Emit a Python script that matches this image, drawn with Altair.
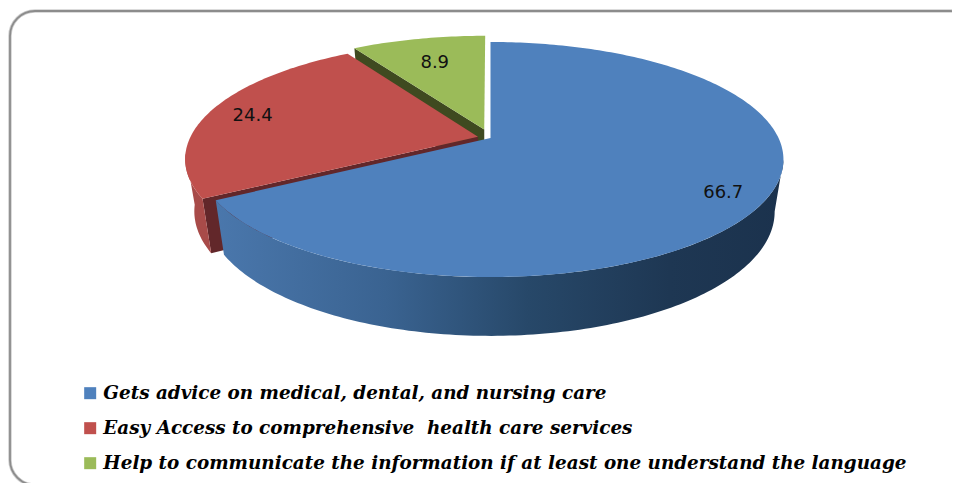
import math
import altair as alt
import pandas as pd

# ---- chart values -------------------------------------------------------
categories = [
    "Gets advice on medical, dental, and nursing care",
    "Easy Access to comprehensive \u00a0health care services",
    "Help to communicate the information if at least one understand the language",
]
values = [66.7, 24.4, 8.9]
labels = ["66.7", "24.4", "8.9"]
colors = ["#4f81bd", "#c0504d", "#9bbb59"]
rim_colors = [None, "#a84b49", None]
cut_colors = [None, "#62272a", "#3f4a20"]

# ---- 3-D pie geometry (perspective tilt of the disc) --------------------
CX, CY_TOP, CY_LOW = 490.5, 138.0, 189.0
B, A_TOP, A_LOW, K, SHRINK = 288.0, 113.6, 120.0, 0.183, 0.97
EXPLODE = [0.0, 0.045, 0.08]
LABEL_R = [0.86, 0.84, 0.72]

fr = [v / sum(values) * 360 for v in values]
starts = [sum(fr[:i]) for i in range(len(fr))]
ends = [s + f for s, f in zip(starts, fr)]


def project(r, deg, idx, low=False):
    t = math.radians(deg)
    mid = math.radians((starts[idx] + ends[idx]) / 2)
    e = EXPLODE[idx]
    X = r * math.sin(t) + e * math.sin(mid)
    Y = -r * math.cos(t) - e * math.cos(mid)
    den = 1 - K * Y
    if low:
        return CX + SHRINK * B * X / den, CY_LOW + A_LOW * Y / den
    return CX + B * X / den, CY_TOP + A_TOP * Y / den


def arc_angles(a, b):
    n = max(2, int(abs(b - a)) + 1)
    return [a + (b - a) * i / (n - 1) for i in range(n)]


def frame(points, idx):
    return pd.DataFrame(
        [{"x": p[0], "y": p[1], "i": i, "cat": categories[idx]} for i, p in enumerate(points)]
    )


def top_face(idx):
    pts = [project(0, 0, idx)] + [project(1, d, idx) for d in arc_angles(starts[idx], ends[idx])]
    return frame(pts, idx)


def rim_wall(idx, a, b):
    angs = arc_angles(a, b)
    pts = [project(1, d, idx) for d in angs] + [project(1, d, idx, True) for d in reversed(angs)]
    return frame(pts, idx)


def cut_face(idx, d):
    pts = [project(0, 0, idx), project(1, d, idx), project(1, d, idx, True), project(0, 0, idx, True)]
    return frame(pts, idx)


x_enc = alt.X("x:Q", axis=None, scale=alt.Scale(domain=[8, 952], range=[0, 944], nice=False, zero=False))
y_enc = alt.Y("y:Q", axis=None, scale=alt.Scale(domain=[8, 483], range=[0, 475], nice=False, zero=False))
order_enc = alt.Order("i:Q")


def solid(df, fill):
    return alt.Chart(df).mark_line(filled=True, fill=fill, strokeWidth=0).encode(
        x=x_enc, y=y_enc, order=order_enc
    )


def gradient(stops):
    return alt.LinearGradient(
        gradient="linear", x1=0, y1=0, x2=1, y2=0,
        stops=[alt.GradientStop(offset=o, color=c) for o, c in stops],
    )


color_enc = alt.Color(
    "cat:N",
    scale=alt.Scale(domain=categories, range=colors),
    legend=alt.Legend(
        orient="none", legendX=73, legendY=376, title=None, symbolType="square",
        symbolSize=144, symbolStrokeWidth=0, symbolOpacity=1,
        labelFont="DejaVu Serif", labelFontStyle="italic", labelFontWeight="bold",
        labelFontSize=18.36, labelColor="#000000", labelLimit=1000, labelOffset=4,
        rowPadding=16, symbolOffset=0,
    ),
)


def top(df):
    return alt.Chart(df).mark_line(filled=True, strokeWidth=0).encode(
        x=x_enc, y=y_enc, order=order_enc, color=color_enc
    )


label_pts = [project(LABEL_R[i], (starts[i] + ends[i]) / 2, i) for i in range(3)]
label_df = pd.DataFrame({"x": [p[0] for p in label_pts], "y": [p[1] for p in label_pts], "t": labels})

outline_soft = alt.Chart(pd.DataFrame({"a": [0]})).mark_rect(
    fillOpacity=0, stroke="#cfcfcf", strokeWidth=3.5, cornerRadius=25
).encode(x=alt.value(2), x2=alt.value(967), y=alt.value(3), y2=alt.value(477))
outline = alt.Chart(pd.DataFrame({"a": [0]})).mark_rect(
    fillOpacity=0, stroke="#8c8c8c", strokeWidth=1.8, cornerRadius=25
).encode(x=alt.value(2), x2=alt.value(967), y=alt.value(3), y2=alt.value(477))

blue_grad = gradient([(0, "#4a77ac"), (0.3, "#3a6391"), (0.55, "#274869"), (0.8, "#1e3753"), (1, "#1b324d")])

layers = [
    outline_soft,
    outline,
    solid(cut_face(2, starts[2]), cut_colors[2]),
    top(top_face(2)),
    solid(cut_face(1, starts[1]), cut_colors[1]),
    solid(rim_wall(1, starts[1], 262), rim_colors[1]),
    top(top_face(1)),
    solid(rim_wall(0, 100.5, ends[0]), blue_grad),
    top(top_face(0)),
    alt.Chart(label_df).mark_text(
        font="DejaVu Sans", fontSize=18, color="#111111", align="center", baseline="middle", dy=1.5
    ).encode(x=x_enc, y=y_enc, text="t:N"),
]

chart = (
    alt.layer(*layers)
    .properties(width=944, height=475, padding=0, autosize="none", background="#ffffff")
    .configure_view(stroke=None)
)

chart.save("out.html", embed_options={"renderer": "svg", "actions": False})
